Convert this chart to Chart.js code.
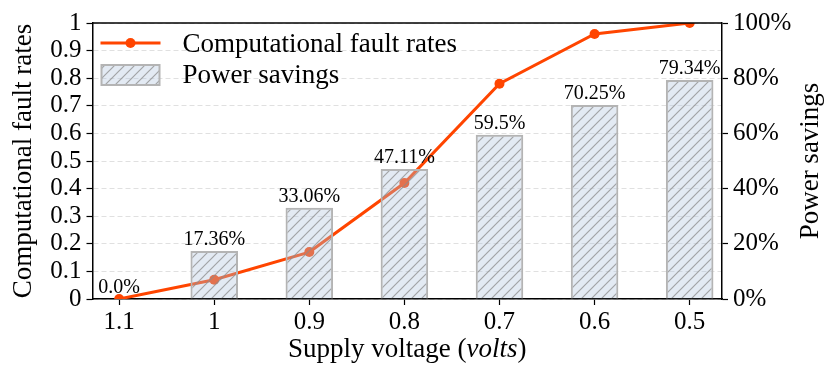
<!DOCTYPE html>
<html>
<head>
<meta charset="utf-8">
<script src="https://cdn.jsdelivr.net/npm/chart.js@4.4.0/dist/chart.umd.min.js"></script>
<style>
  html, body { margin: 0; padding: 0; background: #fff; }
  #wrap { width: 831px; height: 383px; }
</style>
</head>
<body>
<div id="wrap"><canvas id="chart"></canvas></div>
<script>
var voltages = ["1.1", "1", "0.9", "0.8", "0.7", "0.6", "0.5"];
var faultRates = [0, 0.07, 0.17, 0.42, 0.78, 0.96, 1.0];
var powerSavings = [0, 17.36, 33.06, 47.11, 59.5, 70.25, 79.34];
var savingLabels = ["0.0%", "17.36%", "33.06%", "47.11%", "59.5%", "70.25%", "79.34%"];
var leftTicks = [0, 0.1, 0.2, 0.3, 0.4, 0.5, 0.6, 0.7, 0.8, 0.9, 1];
var rightTicks = [0, 20, 40, 60, 80, 100];

var FONT = "'Liberation Serif', 'DejaVu Serif', serif";
var TITLE = '27px ' + FONT;
var lineColor = '#ff4500';
var canvas = document.getElementById('chart');

// hatch "/" pattern on a pale blue fill
function makeHatch() {
  var c = document.createElement('canvas');
  c.width = 10; c.height = 10;
  var g = c.getContext('2d');
  g.fillStyle = 'rgba(176,196,222,0.35)';
  g.fillRect(0, 0, 10, 10);
  g.strokeStyle = 'rgba(140,140,140,0.75)';
  g.lineWidth = 1.2;
  g.beginPath();
  g.moveTo(0, 10); g.lineTo(10, 0);
  g.moveTo(-5, 5); g.lineTo(5, -5);
  g.moveTo(5, 15); g.lineTo(15, 5);
  g.stroke();
  return canvas.getContext('2d').createPattern(c, 'repeat');
}
var hatch = makeHatch();

var extras = {
  id: 'extras',
  afterDatasetsDraw: function (chart) {
    var ctx = chart.ctx;
    var meta = chart.getDatasetMeta(1);
    ctx.save();
    ctx.fillStyle = '#000';
    ctx.font = '20px ' + FONT;
    ctx.textAlign = 'center';
    ctx.textBaseline = 'alphabetic';
    meta.data.forEach(function (bar, i) {
      ctx.fillText(savingLabels[i], bar.x, bar.y - 6);
    });
    ctx.restore();
  },
  afterDraw: function (chart) {
    var ctx = chart.ctx;
    var a = chart.chartArea;
    ctx.save();
    // top spine
    ctx.strokeStyle = '#000';
    ctx.lineWidth = 1.5;
    ctx.beginPath();
    ctx.moveTo(a.left, a.top);
    ctx.lineTo(a.right, a.top);
    ctx.stroke();

    // legend
    var lx = a.left;
    ctx.strokeStyle = lineColor;
    ctx.lineWidth = 3;
    ctx.beginPath();
    ctx.moveTo(lx + 8, a.top + 20);
    ctx.lineTo(lx + 68, a.top + 20);
    ctx.stroke();
    ctx.fillStyle = lineColor;
    ctx.beginPath();
    ctx.arc(lx + 38, a.top + 20, 5, 0, Math.PI * 2);
    ctx.fill();
    ctx.fillStyle = hatch;
    ctx.fillRect(lx + 9, a.top + 42, 58, 20);
    ctx.strokeStyle = '#b4b4b4';
    ctx.lineWidth = 2;
    ctx.strokeRect(lx + 9, a.top + 42, 58, 20);

    ctx.fillStyle = '#000';
    ctx.font = TITLE;
    ctx.textAlign = 'left';
    ctx.textBaseline = 'alphabetic';
    ctx.fillText('Computational fault rates', lx + 90, 52);
    ctx.fillText('Power savings', lx + 90, 83);

    // axis titles
    ctx.textAlign = 'center';
    ctx.save();
    ctx.translate(31, (a.top + a.bottom) / 2);
    ctx.rotate(-Math.PI / 2);
    ctx.fillText('Computational fault rates', 0, 0);
    ctx.restore();

    ctx.save();
    ctx.translate(818, (a.top + a.bottom) / 2);
    ctx.rotate(-Math.PI / 2);
    ctx.fillText('Power savings', 0, 0);
    ctx.restore();

    var p1 = 'Supply voltage (', p2 = 'volts', p3 = ')';
    ctx.font = TITLE;
    var w1 = ctx.measureText(p1).width, w3 = ctx.measureText(p3).width;
    ctx.font = 'italic ' + TITLE;
    var w2 = ctx.measureText(p2).width;
    var x0 = (a.left + a.right) / 2 - (w1 + w2 + w3) / 2;
    ctx.textAlign = 'left';
    ctx.font = TITLE;
    ctx.fillText(p1, x0, 357);
    ctx.font = 'italic ' + TITLE;
    ctx.fillText(p2, x0 + w1, 357);
    ctx.font = TITLE;
    ctx.fillText(p3, x0 + w1 + w2, 357);
    ctx.restore();
  }
};

new Chart(canvas, {
  type: 'bar',
  data: {
    datasets: [
      {
        type: 'line',
        label: 'Computational fault rates',
        data: faultRates.map(function (v, i) { return { x: i, y: v }; }),
        yAxisID: 'y',
        borderColor: lineColor,
        backgroundColor: lineColor,
        borderWidth: 3,
        pointRadius: 5,
        pointBorderWidth: 0,
        pointBackgroundColor: lineColor,
        tension: 0,
        order: 2
      },
      {
        type: 'bar',
        label: 'Power savings',
        data: powerSavings.map(function (v, i) { return { x: i, y: v }; }),
        yAxisID: 'y1',
        backgroundColor: hatch,
        borderColor: '#b4b4b4',
        borderWidth: 2,
        barPercentage: 0.5,
        categoryPercentage: 1,
        order: 1
      }
    ]
  },
  options: {
    responsive: true,
    maintainAspectRatio: false,
    animation: false,
    devicePixelRatio: 1,
    layout: { padding: { top: 23, left: 0, right: 0, bottom: 0 } },
    plugins: { legend: { display: false }, tooltip: { enabled: false } },
    scales: {
      x: {
        type: 'linear',
        min: -0.28,
        max: 6.34,
        offset: false,
        afterBuildTicks: function (s) { s.ticks = voltages.map(function (v, i) { return { value: i }; }); },
        afterFit: function (s) { s.height = 84; },
        ticks: {
          color: '#000',
          font: { family: FONT, size: 25 },
          padding: 2,
          maxRotation: 0,
          autoSkip: false,
          callback: function (v) { return voltages[Math.round(v)]; }
        },
        grid: { offset: false, drawOnChartArea: false, tickLength: 6, tickColor: '#000', tickWidth: 1.2 },
        border: { color: '#000', width: 1.5 }
      },
      y: {
        position: 'left',
        min: 0,
        max: 1,
        afterBuildTicks: function (s) { s.ticks = leftTicks.map(function (v) { return { value: v }; }); },
        afterFit: function (s) { s.width = 92.5; },
        ticks: {
          color: '#000',
          font: { family: FONT, size: 25 },
          padding: 5,
          autoSkip: false,
          callback: function (v) { return (v === 0 || v === 1) ? String(v) : v.toFixed(1); }
        },
        grid: { color: '#e0e0e0', lineWidth: 1, tickLength: 6, tickColor: '#000', tickWidth: 1.2 },
        border: { color: '#000', width: 1.5, dash: [5, 3] }
      },
      y1: {
        position: 'right',
        min: 0,
        max: 100,
        afterBuildTicks: function (s) { s.ticks = rightTicks.map(function (v) { return { value: v }; }); },
        afterFit: function (s) { s.width = 109; },
        ticks: {
          color: '#000',
          font: { family: FONT, size: 25 },
          padding: 5,
          autoSkip: false,
          callback: function (v) { return v + '%'; }
        },
        grid: { drawOnChartArea: false, tickLength: 6, tickColor: '#000', tickWidth: 1.2 },
        border: { color: '#000', width: 1.5 }
      }
    }
  },
  plugins: [extras]
});
</script>
</body>
</html>
